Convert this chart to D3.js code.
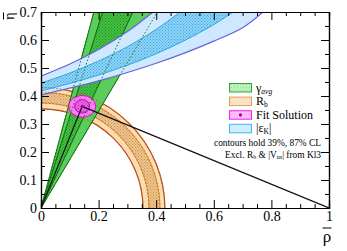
<!DOCTYPE html>
<html>
<head>
<meta charset="utf-8">
<script src="https://cdn.jsdelivr.net/npm/d3@7"></script>
<style>
body { margin: 0; background: #fff; }
text { font-family: "Liberation Serif", "DejaVu Serif", serif; }
</style>
</head>
<body>
<svg id="chart" width="347" height="251"></svg>
<script>
// gamma wedge, angles in degrees (87% and 39% CL)
var gammaOuter = [60, 75.3];
var gammaInner = [65.5, 73];

// Rb ring radii
var rbOuter = [0.354, 0.43];
var rbInner = [0.375, 0.413];

// epsilon_K band edges, [rhobar, etabar]
var epsOuterUp = [[0, 0.471], [0.1, 0.514], [0.2, 0.566], [0.3, 0.630], [0.389, 0.70]];
var epsInnerUp = [[0, 0.446], [0.1, 0.482], [0.2, 0.525], [0.3, 0.576], [0.4, 0.638], [0.483, 0.70]];
var epsInnerLo = [[0, 0.418], [0.1, 0.445], [0.2, 0.475], [0.3, 0.510], [0.4, 0.551], [0.5, 0.599], [0.6, 0.655], [0.667, 0.70]];
var epsOuterLo = [[0, 0.404], [0.1, 0.428], [0.2, 0.454], [0.3, 0.484], [0.4, 0.517], [0.5, 0.554], [0.6, 0.596], [0.7, 0.644], [0.771, 0.70]];

// fit solution
var fitCenter = [0.143, 0.363];
var fitOuter = [0.047, 0.039];
var fitInner = [0.026, 0.024];

// unitarity triangle corners
var triangle = [[0, 0], [0.143, 0.363], [1, 0]];

var xTicks = [0, 0.2, 0.4, 0.6, 0.8, 1];
var yTicks = [0, 0.1, 0.2, 0.3, 0.4, 0.5, 0.6, 0.7];
var xMinor = [0.05, 0.1, 0.15, 0.25, 0.3, 0.35, 0.45, 0.5, 0.55, 0.65, 0.7, 0.75, 0.85, 0.9, 0.95];
var yMinor = [0.05, 0.15, 0.25, 0.35, 0.45, 0.55, 0.65];

var legendNames = ["γ", "R", "Fit Solution", "|ε"];
var legendSubs = ["avg", "b", "", "K"];
var legendTails = ["", "", "", "|"];
var notes = ["contours hold 39%, 87% CL", "Excl. R", " & |V", "| from Kl3"];

var svg = d3.select("#chart");
var x = d3.scaleLinear().domain([0, 1]).range([41, 329]);
var y = d3.scaleLinear().domain([0, 0.7]).range([208, 12]);

// patterns
var defs = svg.append("defs");
function hatch(id, bg, fg) {
    var p = defs.append("pattern").attr("id", id).attr("patternUnits", "userSpaceOnUse")
        .attr("width", 3).attr("height", 3);
    p.append("rect").attr("width", 3).attr("height", 3).attr("fill", bg);
    p.append("rect").attr("x", 0).attr("y", 0).attr("width", 1).attr("height", 1).attr("fill", fg);
    p.append("rect").attr("x", 1.5).attr("y", 1.5).attr("width", 1).attr("height", 1).attr("fill", fg);
}
hatch("hGreen", "#44c044", "#1f8f1f");
hatch("hOrange", "#efc48e", "#c98f4e");
hatch("hBlue", "#8fd3f7", "#3aa6e4");
hatch("hMag", "#ee66ee", "#c21fc2");
hatch("lGreen", "#c9f2c9", "#84d984");
hatch("lOrange", "#ffe8cf", "#efc797");
hatch("lMag", "#ffc8ff", "#f08cf0");
hatch("lBlue", "#dcf1ff", "#aad9f4");

defs.append("clipPath").attr("id", "plotclip").append("rect")
    .attr("x", x(0)).attr("y", y(0.7)).attr("width", x(1) - x(0)).attr("height", y(0) - y(0.7));

var plot = svg.append("g").attr("clip-path", "url(#plotclip)");

function ringPath(r1, r2) {
    var rx1 = x(r1) - x(0), ry1 = y(0) - y(r1);
    var rx2 = x(r2) - x(0), ry2 = y(0) - y(r2);
    return "M" + x(r2) + "," + y(0) + "A" + rx2 + "," + ry2 + " 0 0 0 " + x(0) + "," + y(r2) +
        "L" + x(0) + "," + y(r1) + "A" + rx1 + "," + ry1 + " 0 0 1 " + x(r1) + "," + y(0) + "Z";
}
function arcPath(r) {
    return "M" + x(r) + "," + y(0) + "A" + (x(r) - x(0)) + "," + (y(0) - y(r)) + " 0 0 0 " + x(0) + "," + y(r);
}
function ray(a) {
    var t = a * Math.PI / 180;
    return [2 * Math.cos(t), 2 * Math.sin(t)];
}
function wedgePts(a) {
    return [[0, 0], ray(a[0]), ray(a[1])];
}
var poly = d3.line().x(function (d) { return x(d[0]); }).y(function (d) { return y(d[1]); });
var curve = d3.line().x(function (d) { return x(d[0]); }).y(function (d) { return y(d[1]); })
    .curve(d3.curveCatmullRom.alpha(0.5));
function bandPath(up, lo) {
    var a = curve(up);
    var b = curve(lo.slice().reverse()).replace(/^M/, "L");
    return a + b + "Z";
}

// Rb ring
plot.append("path").attr("d", ringPath(rbOuter[0], rbOuter[1])).attr("fill", "#ffdcb0");
plot.append("path").attr("d", ringPath(rbInner[0], rbInner[1])).attr("fill", "url(#hOrange)");
rbInner.forEach(function (r) {
    plot.append("path").attr("d", arcPath(r)).attr("fill", "none").attr("stroke", "#d99a3a").attr("stroke-width", 1);
});
rbOuter.forEach(function (r) {
    plot.append("path").attr("d", arcPath(r)).attr("fill", "none").attr("stroke", "#b5461a").attr("stroke-width", 1.2);
});

// gamma wedge
plot.append("path").attr("d", poly(wedgePts(gammaOuter)) + "Z").attr("fill", "#5acd5a");
plot.append("path").attr("d", poly(wedgePts(gammaInner)) + "Z").attr("fill", "url(#hGreen)");
gammaOuter.concat(gammaInner).forEach(function (a) {
    plot.append("path").attr("d", poly([[0, 0], ray(a)])).attr("stroke", "#0b6e0b").attr("stroke-width", 1);
});

// epsilon_K band
plot.append("path").attr("d", bandPath(epsOuterUp, epsOuterLo)).attr("fill", "#cfe7ff");
plot.append("path").attr("d", bandPath(epsInnerUp, epsInnerLo)).attr("fill", "url(#hBlue)");
[epsInnerUp, epsInnerLo].forEach(function (c) {
    plot.append("path").attr("d", curve(c)).attr("fill", "none").attr("stroke", "#2aa8e0").attr("stroke-width", 1);
});
[epsOuterUp, epsOuterLo].forEach(function (c) {
    plot.append("path").attr("d", curve(c)).attr("fill", "none").attr("stroke", "#6464dc").attr("stroke-width", 1.2);
});

// fit solution
plot.append("ellipse").attr("cx", x(fitCenter[0])).attr("cy", y(fitCenter[1]))
    .attr("rx", x(fitCenter[0] + fitOuter[0]) - x(fitCenter[0]))
    .attr("ry", y(fitCenter[1]) - y(fitCenter[1] + fitOuter[1]))
    .attr("fill", "#ff7cff").attr("stroke", "#dd00dd").attr("stroke-width", 1);
plot.append("ellipse").attr("cx", x(fitCenter[0])).attr("cy", y(fitCenter[1]))
    .attr("rx", x(fitCenter[0] + fitInner[0]) - x(fitCenter[0]))
    .attr("ry", y(fitCenter[1]) - y(fitCenter[1] + fitInner[1]))
    .attr("fill", "url(#hMag)").attr("stroke", "#c000c0").attr("stroke-width", 1);

// dotted outlines of the covered constraints
gammaOuter.concat(gammaInner).forEach(function (a) {
    plot.append("path").attr("d", poly([[0, 0], ray(a)])).attr("stroke", "#1b7a1b")
        .attr("stroke-width", 1).attr("stroke-dasharray", "1.5,2");
});
rbOuter.concat(rbInner).forEach(function (r) {
    plot.append("path").attr("d", arcPath(r)).attr("fill", "none").attr("stroke", "#b5661a")
        .attr("stroke-width", 1).attr("stroke-dasharray", "1.5,2");
});

// triangle
plot.append("path").attr("d", poly(triangle)).attr("fill", "none").attr("stroke", "#111").attr("stroke-width", 1.2);
plot.append("circle").attr("cx", x(fitCenter[0])).attr("cy", y(fitCenter[1])).attr("r", 1.6).attr("fill", "#a000a0");

// axes: each tick set in its own group, so the axis calls do not reuse each other's ticks
function ticksOnly(axis, vals, size) {
    return axis.tickValues(vals).tickSize(size).tickFormat("");
}
function addAxis(tr, axis) {
    var g = svg.append("g").attr("transform", tr).call(axis);
    return g;
}
var bottomTr = "translate(0," + y(0) + ")", topTr = "translate(0," + y(0.7) + ")";
var leftTr = "translate(" + x(0) + ",0)", rightTr = "translate(" + x(1) + ",0)";
addAxis(bottomTr, ticksOnly(d3.axisBottom(x), xMinor, -4));
addAxis(topTr, ticksOnly(d3.axisTop(x), xMinor, -4));
addAxis(topTr, ticksOnly(d3.axisTop(x), xTicks, -8));
addAxis(leftTr, ticksOnly(d3.axisLeft(y), yMinor, -4));
addAxis(rightTr, ticksOnly(d3.axisRight(y), yMinor, -4));
addAxis(rightTr, ticksOnly(d3.axisRight(y), yTicks, -8));
addAxis(bottomTr, d3.axisBottom(x).tickValues(xTicks).tickSize(-8).tickPadding(3).tickFormat(d3.format("~g")));
addAxis(leftTr, d3.axisLeft(y).tickValues(yTicks).tickSize(-8).tickPadding(4).tickFormat(d3.format("~g")));

// drop the empty labels of the unlabelled tick sets
svg.selectAll(".tick text").filter(function () { return this.textContent === ""; }).remove();
svg.selectAll(".domain").attr("stroke", "#000").attr("stroke-width", 1.2);
svg.selectAll(".tick line").attr("stroke", "#000");
svg.selectAll(".tick text").style("font-family", "'Liberation Serif', serif").style("font-size", "14px").attr("fill", "#000");

// axis titles
var yt = svg.append("g").attr("transform", "translate(13.5,16) rotate(-90)");
yt.append("text").attr("x", 0).attr("y", 0).attr("text-anchor", "middle").attr("font-size", 14).text("η");
yt.append("line").attr("x1", -3.5).attr("x2", 3.5).attr("y1", -10).attr("y2", -10).attr("stroke", "#000").attr("stroke-width", 1);
var xt = svg.append("g").attr("transform", "translate(327,242)");
xt.append("text").attr("x", 0).attr("y", 0).attr("text-anchor", "middle").attr("font-size", 17).text("ρ");
xt.append("line").attr("x1", -4.5).attr("x2", 4.5).attr("y1", -14).attr("y2", -14).attr("stroke", "#000").attr("stroke-width", 1);

// legend
var legFill = ["url(#lGreen)", "url(#lOrange)", "url(#lMag)", "url(#lBlue)"];
var legStroke = ["#2ea82e", "#d6a25a", "#ee22ee", "#3cb8f0"];
var leg = svg.append("g");
legendNames.forEach(function (name, i) {
    var yy = 83.5 + i * 13.6;
    leg.append("rect").attr("x", 229.5).attr("y", yy).attr("width", 22).attr("height", 8.5)
        .attr("fill", legFill[i]).attr("stroke", legStroke[i]).attr("stroke-width", 1);
    if (i === 2) {
        leg.append("circle").attr("cx", 240.5).attr("cy", yy + 4.25).attr("r", 1.6).attr("fill", "#a000a0");
    }
    var t = leg.append("text").attr("x", 256).attr("y", yy + 8).attr("font-size", 12).attr("fill", "#000");
    t.append("tspan").text(name);
    if (legendSubs[i]) {
        t.append("tspan").attr("font-size", 7.5).attr("dy", 2)
            .attr("font-style", i === 0 ? "italic" : "normal").text(legendSubs[i]);
    }
    if (legendTails[i]) {
        t.append("tspan").attr("dy", -2).text(legendTails[i]);
    }
});

var n1 = svg.append("text").attr("x", 321).attr("y", 146).attr("text-anchor", "end")
    .attr("font-size", 9.4).text(notes[0]);
var n2 = svg.append("text").attr("x", 321).attr("y", 157.5).attr("text-anchor", "end").attr("font-size", 9.4);
n2.append("tspan").text(notes[1]);
n2.append("tspan").attr("font-size", 6).attr("dy", 1.5).text("b");
n2.append("tspan").attr("dy", -1.5).text(notes[2]);
n2.append("tspan").attr("font-size", 6).attr("dy", 1.5).text("us");
n2.append("tspan").attr("dy", -1.5).text(notes[3]);
</script>
</body>
</html>
